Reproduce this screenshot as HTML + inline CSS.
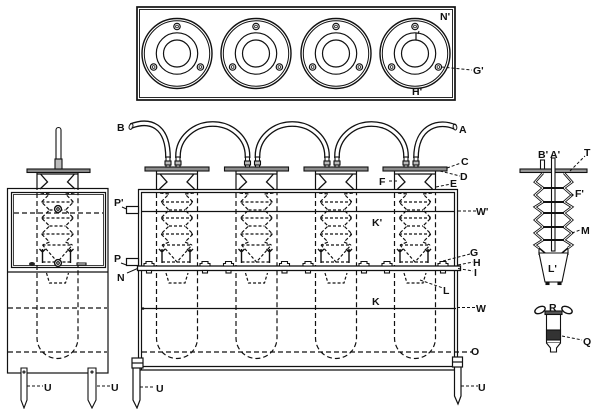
<!DOCTYPE html>
<html><head><meta charset="utf-8"><style>
html,body{margin:0;padding:0;background:#fff;}
svg{display:block;}
text{font-family:"Liberation Sans",Arial,sans-serif;font-weight:bold;font-size:10.5px;fill:#111;}
</style></head><body>
<svg width="600" height="409" viewBox="0 0 600 409" xmlns="http://www.w3.org/2000/svg">
<defs>
 <g id="ros" fill="none" stroke="#111">
  <circle r="35" stroke-width="1.4"/>
  <circle r="32.7" stroke-width="1"/>
  <circle r="20.7" stroke-width="1.2"/>
  <circle r="13.5" stroke-width="1.2"/>
  <circle cx="0" cy="-27" r="3.2" stroke-width="1.2"/><circle cx="0" cy="-27" r="1.4" stroke-width="0.8"/>
  <circle cx="-23.4" cy="13.5" r="3.2" stroke-width="1.2"/><circle cx="-23.4" cy="13.5" r="1.4" stroke-width="0.8"/>
  <circle cx="23.4" cy="13.5" r="3.2" stroke-width="1.2"/><circle cx="23.4" cy="13.5" r="1.4" stroke-width="0.8"/>
 </g>
 <g id="core" fill="none" stroke="#111" stroke-width="1.2">
  <path d="M-20.5 171 V190 M20.5 171 V190" stroke-width="1.2"/>
  <path d="M-20.5 193 V338 A20.5 20.5 0 0 0 20.5 338 V193" stroke-dasharray="5 3"/>
  <path d="M-20.5 174 H20.5 M-17 174 L-10 182 L-17.5 189 M17 174 L10 182 L17.5 189" stroke-width="1.3"/>
  <path d="M-17 193 L-8 194 L-16 202 L-8 210 L-16 218 L-8 226 L-16 234 L-8 242 L-15 245 M17 193 L8 194 L16 202 L8 210 L16 218 L8 226 L16 234 L8 242 L15 245" stroke-dasharray="3.5 2"/>
  <path d="M-16 202 H16 M-16 218 H16 M-16 234 H16 M-8 210 H8 M-8 226 H8 M-15 245 H15 M-15 245 L0 262 L15 245 M-15 262 H15" stroke-dasharray="3 2"/>
  <path d="M-15 249 V263 M13 249 V263 M-18 249 L-15 252 L-12 249 M10 249 L13 252 L16 249" stroke-width="1.4"/>
  <path d="M-11 273 L-8 283 H8 L11 273" stroke-dasharray="3 2"/>
 </g>
 <g id="top" stroke="#111" stroke-width="1.1">
  <rect x="-32" y="167" width="64" height="4" fill="#8c8c8c"/>
  <rect x="-11" y="157" width="4" height="10" fill="#fff"/>
  <rect x="-12" y="161" width="6" height="4" fill="#bbb"/>
  <rect x="-1" y="157" width="4" height="10" fill="#fff"/>
  <rect x="-2" y="161" width="6" height="4" fill="#bbb"/>
 </g>
 <g id="bolts" stroke="#111" stroke-width="1.1" fill="#fff">
  <path d="M-33 266 V263.5 H-31 V261.5 H-25 V263.5 H-23 V266 Z"/>
  <path d="M23 266 V263.5 H25 V261.5 H31 V263.5 H33 V266 Z"/>
  <rect x="-30.5" y="270.5" width="5" height="2.5"/>
  <rect x="25.5" y="270.5" width="5" height="2.5"/>
 </g>
</defs>

<!-- Top view -->
<rect x="137" y="7" width="318" height="93" fill="none" stroke="#111" stroke-width="1.7"/>
<rect x="139.5" y="9.5" width="313" height="88" fill="none" stroke="#111" stroke-width="0.9"/>
<use href="#ros" x="177" y="53.5"/>
<use href="#ros" x="256" y="53.5"/>
<use href="#ros" x="336" y="53.5"/>
<use href="#ros" x="415" y="53.5"/>
<path d="M416 33 V40" stroke="#111" stroke-width="1.2"/>
<path d="M419 31 L418 34" stroke="#111" stroke-width="1"/>
<path d="M441.5 67 L472 70" stroke="#111" stroke-dasharray="3 2"/>
<text x="440" y="20">N'</text>
<text x="412" y="95">H'</text>
<text x="473" y="74">G'</text>

<!-- Main view tubes -->
<g fill="none">
 <g stroke="#111" stroke-width="5.8">
  <path d="M131 126 C150 119 168 125 168 158"/>
  <path d="M178 158 V156 A34.75 32 0 0 1 247.5 156 V158"/>
  <path d="M257.5 158 V156 A34.75 32 0 0 1 327 156 V158"/>
  <path d="M337 158 V156 A34.5 32 0 0 1 406 156 V158"/>
  <path d="M416 158 C416 125 440 120 455 127"/>
 </g>
 <g stroke="#fff" stroke-width="3.2">
  <path d="M131 126 C150 119 168 125 168 158"/>
  <path d="M178 158 V156 A34.75 32 0 0 1 247.5 156 V158"/>
  <path d="M257.5 158 V156 A34.75 32 0 0 1 327 156 V158"/>
  <path d="M337 158 V156 A34.5 32 0 0 1 406 156 V158"/>
  <path d="M416 158 C416 125 440 120 455 127"/>
 </g>
 <ellipse cx="131" cy="126.5" rx="1.8" ry="3" transform="rotate(20 131 126.5)" stroke="#111"/>
 <ellipse cx="455" cy="127" rx="1.8" ry="3" transform="rotate(-10 455 127)" stroke="#111"/>
</g>

<!-- cells -->
<use href="#core" x="177" y="0"/>
<use href="#core" x="256.5" y="0"/>
<use href="#core" x="336" y="0"/>
<use href="#core" x="415" y="0"/>
<use href="#top" x="177" y="0"/>
<use href="#top" x="256.5" y="0"/>
<use href="#top" x="336" y="0"/>
<use href="#top" x="415" y="0"/>

<!-- frame -->
<g stroke="#111" stroke-width="1.2" fill="none">
 <path d="M138 189.5 H458 M141 192.5 H455"/>
 <path d="M138.5 189 V370 M141.5 192 V370"/>
 <path d="M454.5 192 V370 M457.5 189 V370"/>
 <path d="M141 211.5 H455"/>
 <rect x="126.5" y="206.5" width="12" height="7" fill="#fff"/>
 <rect x="126.5" y="258.5" width="12" height="7" fill="#fff"/>
 <rect x="137.5" y="266" width="323" height="4.5" fill="#fff" stroke-width="1.3"/>
 <path d="M142 308.5 H456"/>
 <path d="M142 352 H472" stroke-dasharray="5 3"/>
 <path d="M138 366.5 H458 M138 370 H458"/>
 <path d="M133 358 V400 L137 408 L140 400 V358" fill="#fff"/>
 <rect x="132" y="358" width="11" height="10" fill="#fff"/>
 <path d="M132 363 H143"/>
 <path d="M454.5 358 V396 L458 404 L461 396 V358" fill="#fff"/>
 <rect x="452.5" y="357" width="10" height="10" fill="#fff"/>
 <path d="M452.5 362 H462.5"/>
</g>
<circle cx="143" cy="308.5" r="1.3" fill="#111"/>
<use href="#bolts" x="177" y="0"/>
<use href="#bolts" x="256.5" y="0"/>
<use href="#bolts" x="336" y="0"/>
<use href="#bolts" x="415" y="0"/>

<!-- main labels & leaders -->
<g stroke="#111" stroke-width="1" fill="none" stroke-dasharray="3 2">
 <path d="M447 168 L461 163"/>
 <path d="M440 171 L460 176"/>
 <path d="M436 187 L451 184"/>
 <path d="M389 181 H399"/>
 <path d="M458 211 H477"/>
 <path d="M443 261 L470 254"/>
 <path d="M458 265 L473 262"/>
 <path d="M458 268.5 L473 271"/>
 <path d="M420 280 L443 288"/>
 <path d="M457 307.5 H475"/>
 <path d="M461 386 H478"/>
 <path d="M140 387 H155"/>
 <path d="M27 386 H43"/>
 <path d="M97 386 H110"/>
</g>
<g stroke="#111" stroke-width="1" fill="none">
 <path d="M121 263 L126.5 265"/>
 <path d="M127 273 L137.5 268.5"/>
 <path d="M122 207 L126.5 209"/>
</g>
<text x="117" y="131">B</text>
<text x="459" y="133">A</text>
<text x="461" y="165">C</text>
<text x="460" y="180">D</text>
<text x="450" y="187">E</text>
<text x="379" y="185">F</text>
<text x="476" y="215">W'</text>
<text x="372" y="226">K'</text>
<text x="114" y="206">P'</text>
<text x="114" y="262">P</text>
<text x="117" y="281">N</text>
<text x="470" y="256">G</text>
<text x="473" y="266">H</text>
<text x="474" y="276">I</text>
<text x="443" y="294">L</text>
<text x="372" y="305">K</text>
<text x="476" y="312">W</text>
<text x="471" y="355">O</text>
<text x="478" y="391">U</text>
<text x="156" y="392">U</text>
<text x="44" y="391">U</text>
<text x="111" y="391">U</text>

<!-- Left view -->
<g stroke="#111" stroke-width="1.2" fill="none">
 <rect x="7.5" y="188.5" width="100.5" height="184.5" fill="#fff"/>
 <rect x="11.5" y="192.5" width="94" height="75"/>
 <rect x="13.5" y="194.5" width="90" height="71" stroke-width="0.8"/>
 <path d="M7.5 272 H108"/>
 <path d="M14 213 H103 M8 308 H107 M8 352 H107" stroke-dasharray="5 3"/>
</g>
<use href="#core" x="57.5" y="0"/>
<g stroke="#111" stroke-width="1.1">
 <rect x="27" y="169" width="63" height="3.5" fill="#8c8c8c"/>
 <path d="M56 165 V130 A2.5 2.5 0 0 1 61 130 V165 Z" fill="#fff"/>
 <rect x="55" y="159" width="7" height="10" fill="#bbb"/>
 <circle cx="58" cy="209" r="3.4" fill="#fff" stroke-width="1.4"/>
 <circle cx="58" cy="209" r="1.3" fill="#fff"/>
 <circle cx="58" cy="263" r="3.4" fill="#fff" stroke-width="1.4"/>
 <circle cx="58" cy="263" r="1.3" fill="#fff"/>
 <path d="M21 368 V400 L24 408 L27 400 V368 Z" fill="#fff"/>
 <path d="M88 368 V400 L92 408 L96 400 V368 Z" fill="#fff"/>
 <circle cx="24" cy="372" r="1" fill="#fff"/>
 <circle cx="92" cy="372" r="1" fill="#fff"/>
 <path d="M77 263 H86 V265 H77 Z" fill="#fff"/>
</g>
<ellipse cx="32" cy="264" rx="3" ry="2" fill="#222"/>

<!-- Right detail -->
<g stroke="#111" stroke-width="1.1" fill="none">
 <rect x="520" y="169" width="67" height="3.5" fill="#999"/>
 <rect x="540.5" y="160" width="4" height="9" fill="#fff"/>
 <rect x="551.5" y="158" width="3.5" height="93" fill="#fff"/>
 <path d="M543 173 L535 182 L543 188 L535 195 L543 202 L535 207 L543 213 L535 220 L543 227 L535 233 L543 240 L535 245 L539 248" stroke-width="2.6"/>
 <path d="M543 173 L535 182 L543 188 L535 195 L543 202 L535 207 L543 213 L535 220 L543 227 L535 233 L543 240 L535 245 L539 248" stroke="#fff" stroke-width="0.9"/>
 <path d="M564 173 L572 182 L564 188 L572 195 L564 202 L572 207 L564 213 L572 220 L564 227 L572 233 L564 240 L572 245 L568 248" stroke-width="2.6"/>
 <path d="M564 173 L572 182 L564 188 L572 195 L564 202 L572 207 L564 213 L572 220 L564 227 L572 233 L564 240 L572 245 L568 248" stroke="#fff" stroke-width="0.9"/>
 <path d="M543 188 H564 M543 202 H564 M543 213 H564 M543 227 H564 M543 240 H564" stroke-width="2"/>
 <path d="M539 248 L553.5 260 L568 248" stroke-width="1.5"/>
 <path d="M539 253 H568 L562 282 H545 Z" fill="#fff"/>
 <path d="M539 249 V255 M568 249 V255"/>
 <rect x="546" y="282" width="3" height="2.5" fill="#111"/>
 <rect x="558" y="282" width="3" height="2.5" fill="#111"/>
 <path d="M570 171 L585 156 M570 195 H574 M572 233 L580 230 M562 336 L582 340" stroke-dasharray="3 2" stroke-width="1"/>
 <ellipse cx="540" cy="310" rx="5.5" ry="3.2" transform="rotate(-25 540 310)" stroke-width="1.4"/>
 <ellipse cx="567" cy="310" rx="5.5" ry="3.2" transform="rotate(25 567 310)" stroke-width="1.4"/>
 <rect x="545" y="311" width="17" height="3.5" fill="#555"/>
 <rect x="546.5" y="314.5" width="14" height="28.5" fill="#fff"/>
 <rect x="546.5" y="330" width="14" height="10" fill="#333"/>
 <path d="M546.5 343 L550.5 348 V352 H556.5 V348 L560.5 343" fill="#fff"/>
</g>
<text x="538" y="158">B'</text>
<text x="550" y="158">A'</text>
<text x="584" y="156">T</text>
<text x="575" y="197">F'</text>
<text x="581" y="234">M</text>
<text x="548" y="272">L'</text>
<text x="549" y="311">R</text>
<text x="583" y="345">Q</text>
</svg>
</body></html>
